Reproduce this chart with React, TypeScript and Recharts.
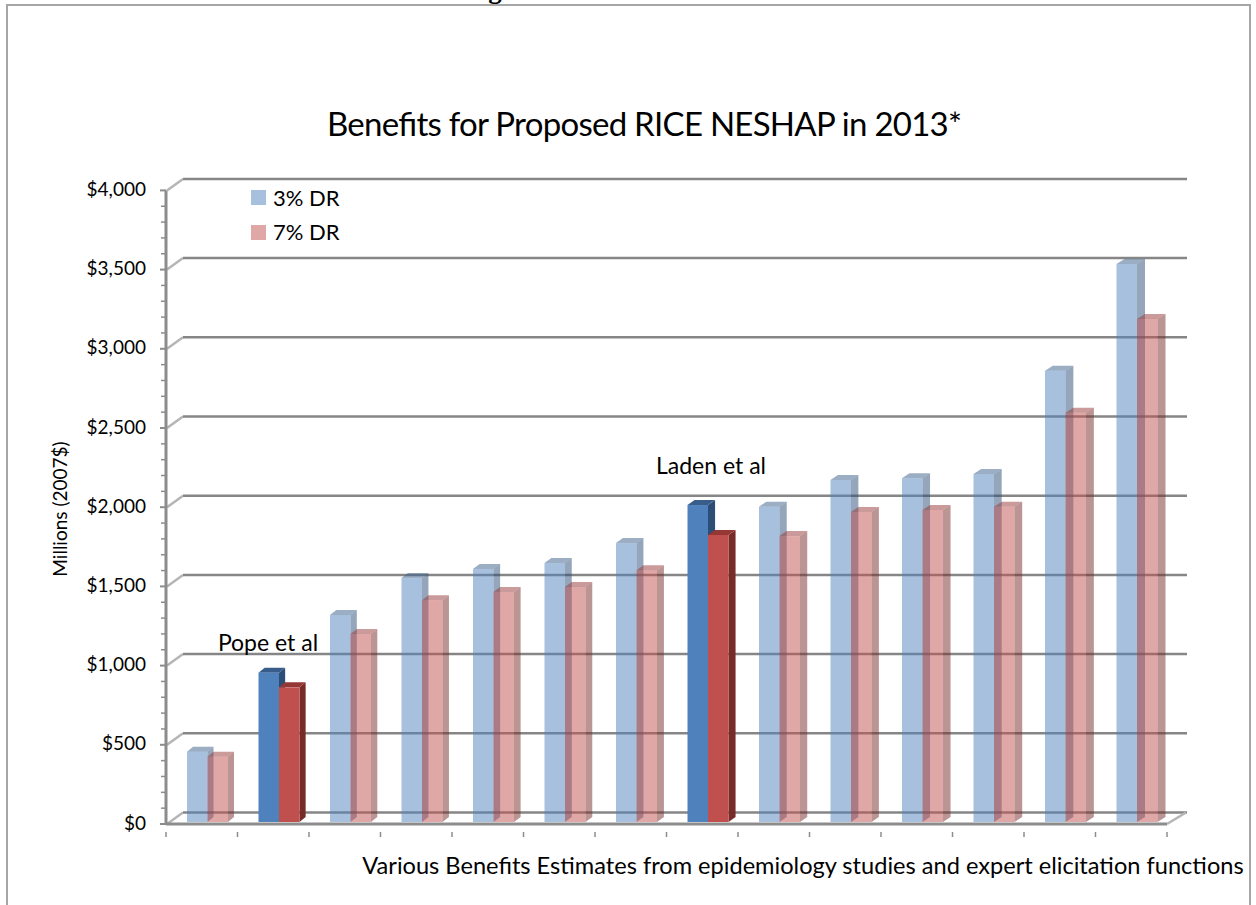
import { Bar, BarChart, CartesianGrid, Cell, XAxis, YAxis } from "recharts";

const studies = ["1", "2", "3", "4", "5", "6", "7", "8", "9", "10", "11", "12", "13", "14"];
const dr3 = [444, 943, 1307, 1540, 1597, 1635, 1761, 2001, 1990, 2159, 2170, 2197, 2849, 3523];
const dr7 = [412, 850, 1187, 1400, 1452, 1484, 1590, 1812, 1805, 1957, 1970, 1990, 2584, 3176];
const highlighted = ["2", "8"];
const yTicks = [
  0, 100, 200, 300, 400, 500, 600, 700, 800, 900, 1000, 1100, 1200, 1300, 1400, 1500, 1600, 1700, 1800, 1900, 2000,
  2100, 2200, 2300, 2400, 2500, 2600, 2700, 2800, 2900, 3000, 3100, 3200, 3300, 3400, 3500, 3600, 3700, 3800, 3900, 4000,
];
const majorTicks = [0, 500, 1000, 1500, 2000, 2500, 3000, 3500, 4000];

const data = studies.map((name, i) => ({ name, dr3: dr3[i], dr7: dr7[i] }));

const font = "Lato, Carlito, sans-serif";
const axisGrey = "#8c8c8c";
const band = 1001 / 14;

const blue = { front: "#4f81bd", top: "#385d8a", side: "#2c4d75" };
const red = { front: "#c0504d", top: "#953735", side: "#772c2a" };

// front face plus the two extruded faces, Excel 3-D column look
function Bar3D(props: any) {
  const { x, y, width, height, colors, solid, index } = props;
  const dx = 6 + (2 * index) / 13; // depth grows a little to the right
  const dy = 5;
  const left = x + 6;
  const right = left + width;
  const top = y - 2;
  const bottom = top + height;
  const op = solid ? 1 : 0.5;
  return (
    <g>
      <polygon
        points={`${right},${top} ${right + dx},${top - dy} ${right + dx},${bottom - dy} ${right},${bottom}`}
        fill={colors.side}
        fillOpacity={op}
      />
      <polygon
        points={`${left},${top} ${left + dx},${top - dy} ${right + dx},${top - dy} ${right},${top}`}
        fill={colors.top}
        fillOpacity={op}
      />
      <rect x={left} y={top} width={width} height={height} fill={colors.front} fillOpacity={op} />
    </g>
  );
}

function GridLine(props: any) {
  const { x1, y1, x2 } = props;
  const backY = y1 - 11.5;
  const isFloor = y1 > 815;
  return (
    <g>
      <line x1={x1 + 1} y1={y1} x2={x1 + 17} y2={backY} stroke="#b5b5b5" strokeWidth={2.5} />
      <line x1={x1 + 17} y1={backY} x2={x2 + 20} y2={backY} stroke="#868686" strokeWidth={2.5} />
      {isFloor && <line x1={x2} y1={y1} x2={x2 + 19} y2={backY} stroke="#b5b5b5" strokeWidth={2.5} />}
    </g>
  );
}

function YTick(props: any) {
  const { x, y, payload } = props;
  const major = payload.value % 500 === 0;
  return (
    <g>
      <line x1={x + (major ? 0 : 1)} y1={y} x2={x + 6} y2={y} stroke={axisGrey} strokeWidth={major ? 2 : 1.5} />
      {major && (
        <text x={x - 14} y={y} dy={5.5} textAnchor="end" fontFamily={font} fontSize={19} fill="#000">
          {"$" + payload.value.toLocaleString("en-US")}
        </text>
      )}
    </g>
  );
}

function XTick(props: any) {
  const { x, y, index } = props;
  const edge = x - band / 2;
  return (
    <g>
      <line x1={edge} y1={y} x2={edge} y2={y + 5} stroke={axisGrey} strokeWidth={1.5} />
      {index === studies.length - 1 && (
        <line x1={edge + band} y1={y} x2={edge + band} y2={y + 5} stroke={axisGrey} strokeWidth={1.5} />
      )}
    </g>
  );
}

export default function App() {
  return (
    <div style={{ position: "absolute", left: 0, top: 0, width: 1256, height: 905, overflow: "hidden", background: "#fff" }}>
      <div
        style={{
          position: "absolute",
          left: 6,
          top: 4,
          width: 1245,
          height: 910,
          border: "2px solid #a6a6a6",
          boxSizing: "border-box",
        }}
      />
      <BarChart
        width={1256}
        height={905}
        data={data}
        barSize={20.5}
        barGap={0}
        margin={{ top: 190.4, right: 89, bottom: 31, left: 76 }}
        style={{ position: "absolute", left: 0, top: 0 }}
      >
        <CartesianGrid vertical={false} horizontalValues={majorTicks} horizontal={GridLine as any} />
        <XAxis
          dataKey="name"
          height={50}
          interval={0}
          axisLine={{ stroke: axisGrey, strokeWidth: 3 }}
          tickLine={false}
          tick={XTick as any}
        />
        <YAxis
          width={90}
          domain={[0, 4000]}
          ticks={yTicks}
          interval={0}
          axisLine={{ stroke: axisGrey, strokeWidth: 3 }}
          tickLine={false}
          tickMargin={0}
          tick={YTick as any}
        />
        <Bar
          dataKey="dr3"
          isAnimationActive={false}
          shape={(p: any) => <Bar3D {...p} colors={blue} solid={highlighted.includes(p.name)} />}
        >
          {data.map((d) => (
            <Cell key={d.name} fill={blue.front} />
          ))}
        </Bar>
        <Bar
          dataKey="dr7"
          isAnimationActive={false}
          shape={(p: any) => <Bar3D {...p} colors={red} solid={highlighted.includes(p.name)} />}
        >
          {data.map((d) => (
            <Cell key={d.name} fill={red.front} />
          ))}
        </Bar>
        {/* bottom of a heading cut off by the crop */}
        <text x={495} y={-2} textAnchor="middle" fontFamily="Liberation Serif" fontWeight="bold" fontSize={27} fill="#000">
          g
        </text>
        <text
          x={644.5}
          y={136}
          textAnchor="middle"
          fontFamily={font}
          fontSize={33}
          textLength={635}
          lengthAdjust="spacing"
          fill="#000"
        >
          Benefits for Proposed RICE NESHAP in 2013*
        </text>
        <text
          x={67}
          y={509}
          transform="rotate(-90 67 509)"
          textAnchor="middle"
          fontFamily={font}
          fontSize={19}
          fill="#000"
        >
          Millions (2007$)
        </text>
        <text x={803} y={874} textAnchor="middle" fontFamily={font} fontSize={23.6} fill="#000">
          Various Benefits Estimates from epidemiology studies and expert elicitation functions
        </text>
        <text x={268} y={651} textAnchor="middle" fontFamily={font} fontSize={23} fill="#000">
          Pope et al
        </text>
        <text x={711} y={474} textAnchor="middle" fontFamily={font} fontSize={23} fill="#000">
          Laden et al
        </text>
        <rect x={251} y={190} width={15} height={15} fill={blue.front} fillOpacity={0.5} />
        <text x={273} y={206} fontFamily={font} fontSize={22} fill="#000">
          3% DR
        </text>
        <rect x={251} y={225} width={15} height={15} fill={red.front} fillOpacity={0.5} />
        <text x={273} y={240} fontFamily={font} fontSize={22} fill="#000">
          7% DR
        </text>
      </BarChart>
    </div>
  );
}
